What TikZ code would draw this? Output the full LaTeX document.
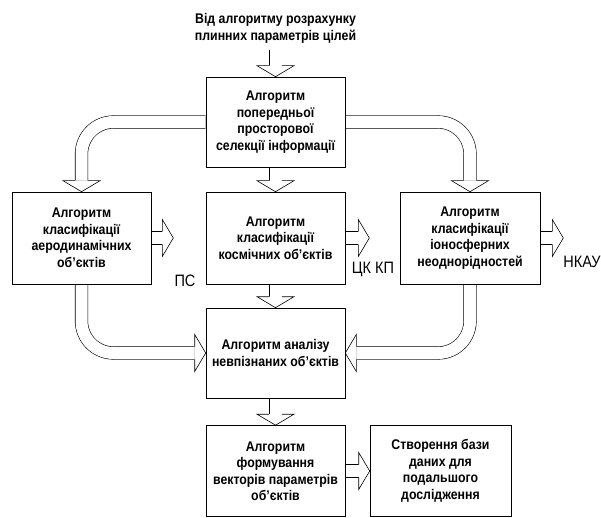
\documentclass[tikz,border=0pt]{standalone}
\usepackage{fontspec}
\setmainfont{Liberation Sans}[FakeStretch=0.88]
\usetikzlibrary{backgrounds}
\tikzset{
  box/.style={draw, fill=white, line width=0.6pt, minimum width=139pt, minimum height=90pt, align=center, inner sep=2pt, font=\fontsize{14}{16.5}\selectfont\bfseries},
  src/.style={align=center, inner sep=2pt, font=\fontsize{14}{17.5}\selectfont\bfseries},
  lbl/.style={inner sep=0pt, font=\fontsize{16.5}{18}\selectfont},
  shaft/.style={draw=black, double=white, double distance=12pt, line width=0.6pt},
  blockhead/.pic={\draw[line width=0.6pt, fill=white] (-11,6.3) -- (-11,18.5) -- (0,0) -- (-11,-18.5) -- (-11,-6.3);}
}
\begin{document}
\begin{tikzpicture}[x=1pt,y=1pt]
\useasboundingbox (0,0) rectangle (601,517);
% boxes
\node[box] (tb) at (275.5,395) {Алгоритм\\попередньої\\просторової\\селекції інформації};
\node[box, minimum height=92pt] (lb) at (81.5,279) {Алгоритм\\класифікації\\аеродинамічних\\об’єктів};
\node[box, minimum height=92pt] (cb) at (275.5,279) {Алгоритм\\класифікації\\космічних об’єктів};
\node[box, minimum height=92pt, minimum width=140pt] (rb) at (470,279) {Алгоритм\\класифікації\\іоносферних\\неоднорідностей};
\node[box] (an) at (275.5,164) {Алгоритм аналізу\\невпізнаних об’єктів};
\node[box, minimum height=91pt] (vb) at (275.5,46) {Алгоритм\\формування\\векторів параметрів\\об’єктів};
\node[box, minimum height=91pt, minimum width=141pt] (db) at (440.5,46) {Створення бази\\даних для\\подальшого\\дослідження};
\node[src, anchor=south, inner ysep=6pt] (src) at (275.5,467) {Від алгоритму розрахунку\\плинних параметрів цілей};
% free ends of the side arrows
\coordinate (ps) at ([xshift=22pt]lb.east);
\coordinate (ckkp) at ([xshift=24pt]cb.east);
\coordinate (nkau) at ([xshift=23pt]rb.east);
\node[lbl] (pslbl) at (185,236) {ПС};
\node[lbl] (ckkplbl) at (373,248) {ЦК КП};
\node[lbl] (nkaulbl) at (582,255) {НКАУ};
\begin{pgfonlayer}{background}
% straight block arrows
\foreach \a/\b in {src/tb, tb/cb, cb/an, an/vb} {
  \draw[shaft] (\a.south) -- ([yshift=11pt]\b.north);
  \pic[rotate=-90] at (\b.north) {blockhead};
}
\foreach \a/\b in {lb.east/ps, cb.east/ckkp, rb.east/nkau, vb.east/db.west} {
  \draw[shaft] (\a) -- ([xshift=-11pt]\b);
  \pic at (\b) {blockhead};
}
% bent block arrows
\draw[shaft, rounded corners=32pt] (tb.west) -| ([yshift=11pt]lb.north);
\pic[rotate=-90] at (lb.north) {blockhead};
\draw[shaft, rounded corners=32pt] (tb.east) -| ([yshift=11pt]rb.north);
\pic[rotate=-90] at (rb.north) {blockhead};
\draw[shaft, rounded corners=32pt] (lb.south) |- ([xshift=-11pt]an.west);
\pic at (an.west) {blockhead};
\draw[shaft, rounded corners=32pt] (rb.south) |- ([xshift=11pt]an.east);
\pic[rotate=180] at (an.east) {blockhead};
\end{pgfonlayer}
\end{tikzpicture}
\end{document}
